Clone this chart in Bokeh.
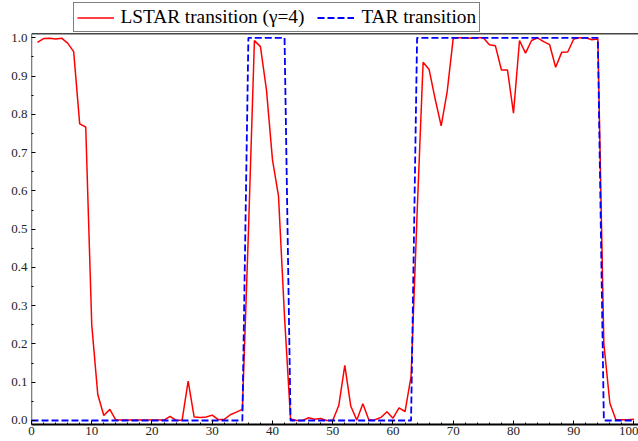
from bokeh.plotting import figure
from bokeh.models import Range1d, FixedTicker, PrintfTickFormatter, Legend, LegendItem, Span
from bokeh.embed import file_html
from bokeh.resources import INLINE

# LSTAR transition function (gamma = 4), observations 1..100
t_lstar = list(range(1, 101))
lstar = [
    0.988, 0.998, 0.999, 0.997, 0.999, 0.986, 0.964, 0.775, 0.767, 0.250,   # 1-10
    0.068, 0.013, 0.029, 0.001, 0.001, 0.001, 0.001, 0.001, 0.001, 0.001,   # 11-20
    0.001, 0.001, 0.011, 0.000, 0.001, 0.103, 0.009, 0.008, 0.009, 0.014,   # 21-30
    0.002, 0.003, 0.015, 0.022, 0.029, 0.490, 0.993, 0.977, 0.864, 0.681,   # 31-40
    0.586, 0.270, 0.004, 0.000, 0.000, 0.007, 0.003, 0.005, 0.000, 0.000,   # 41-50
    0.039, 0.144, 0.037, 0.001, 0.044, 0.001, 0.002, 0.008, 0.023, 0.006,   # 51-60
    0.033, 0.023, 0.115, 0.540, 0.936, 0.917, 0.840, 0.770, 0.860, 0.999,   # 61-70
    1.000, 1.000, 0.999, 1.000, 1.000, 0.982, 0.979, 0.916, 0.916, 0.803,   # 71-80
    0.993, 0.960, 0.993, 1.000, 0.990, 0.982, 0.923, 0.962, 0.963, 0.997,   # 81-90
    1.000, 1.000, 0.995, 0.997, 0.200, 0.045, 0.002, 0.002, 0.002, 0.003,   # 91-100
]

# TAR transition (indicator), observations 0..100
t_tar = list(range(0, 101))
tar = [
    0,                               # 0
    0, 0, 0, 0, 0, 0, 0, 0, 0, 0,    # 1-10
    0, 0, 0, 0, 0, 0, 0, 0, 0, 0,    # 11-20
    0, 0, 0, 0, 0, 0, 0, 0, 0, 0,    # 21-30
    0, 0, 0, 0, 0, 1, 1, 1, 1, 1,    # 31-40
    1, 1, 0, 0, 0, 0, 0, 0, 0, 0,    # 41-50
    0, 0, 0, 0, 0, 0, 0, 0, 0, 0,    # 51-60
    0, 0, 0, 1, 1, 1, 1, 1, 1, 1,    # 61-70
    1, 1, 1, 1, 1, 1, 1, 1, 1, 1,    # 71-80
    1, 1, 1, 1, 1, 1, 1, 1, 1, 1,    # 81-90
    1, 1, 1, 1, 0, 0, 0, 0, 0, 0,    # 91-100
]

x_ticks = [0, 10, 20, 30, 40, 50, 60, 70, 80, 90, 100]
x_minor = [2, 4, 6, 8, 12, 14, 16, 18, 22, 24, 26, 28, 32, 34, 36, 38, 42, 44, 46, 48,
           52, 54, 56, 58, 62, 64, 66, 68, 72, 74, 76, 78, 82, 84, 86, 88, 92, 94, 96, 98]
y_ticks = [0.0, 0.1, 0.2, 0.3, 0.4, 0.5, 0.6, 0.7, 0.8, 0.9, 1.0]
y_minor = [0.05, 0.15, 0.25, 0.35, 0.45, 0.55, 0.65, 0.75, 0.85, 0.95]

labels = ["LSTAR transition (\u03b3=4)", "TAR transition"]

FONT = "Times"
Y_LO, Y_TOP, Y_HI = -0.0105, 1.0105, 1.0975
X_LO, X_HI = 0, 100.75

p = figure(width=638, height=441, output_backend="svg", toolbar_location=None,
           x_range=Range1d(X_LO, X_HI), y_range=Range1d(Y_LO, Y_HI),
           min_border_left=31, min_border_right=0, min_border_top=0, min_border_bottom=17)
p.grid.visible = False
p.outline_line_color = None
p.background_fill_color = "white"
p.border_fill_color = "white"

# frame lines: left axis line (to the top of the plot box) and the top border
p.segment(x0=[X_LO], y0=[Y_LO], x1=[X_LO], y1=[Y_TOP], line_color="black", line_width=1.3)
top_line = Span(location=Y_TOP, dimension="width", line_color="#444444", line_width=1.5)
p.add_layout(top_line)

r1 = p.line(t_lstar, lstar, line_color="#ff0000", line_width=1.5)
r2 = p.line(t_tar, tar, line_color="#0000ff", line_width=1.8, line_dash="7 3")

xa = p.xaxis[0]
xa.ticker = FixedTicker(ticks=x_ticks, minor_ticks=x_minor)
ya = p.yaxis[0]
ya.ticker = FixedTicker(ticks=y_ticks, minor_ticks=y_minor)
ya.formatter = PrintfTickFormatter(format="%.1f")

for ax in (xa, ya):
    ax.major_tick_in = 4
    ax.major_tick_out = 0
    ax.minor_tick_in = 2
    ax.minor_tick_out = 0
    ax.major_tick_line_color = "black"
    ax.minor_tick_line_color = "black"
    ax.major_label_text_font = FONT
    ax.major_label_text_font_size = "13px"
    ax.major_label_text_color = "#222222"
xa.axis_line_color = "black"
xa.axis_line_width = 2
ya.axis_line_color = None
xa.major_label_standoff = 2
ya.major_label_standoff = 4

legend = Legend(
    items=[LegendItem(label=labels[0], renderers=[r1]),
           LegendItem(label=labels[1], renderers=[r2])],
    orientation="horizontal", location=(41.5, 392), margin=0,
    label_text_font=FONT, label_text_font_size="19.3px", label_text_color="black",
    glyph_width=37, glyph_height=19, label_height=19, label_standoff=7,
    spacing=13, padding=3, border_line_color="black", border_line_width=1,
    background_fill_color="white", background_fill_alpha=1.0,
)
p.add_layout(legend, "center")

open("out.html", "w").write(file_html(p, INLINE))
